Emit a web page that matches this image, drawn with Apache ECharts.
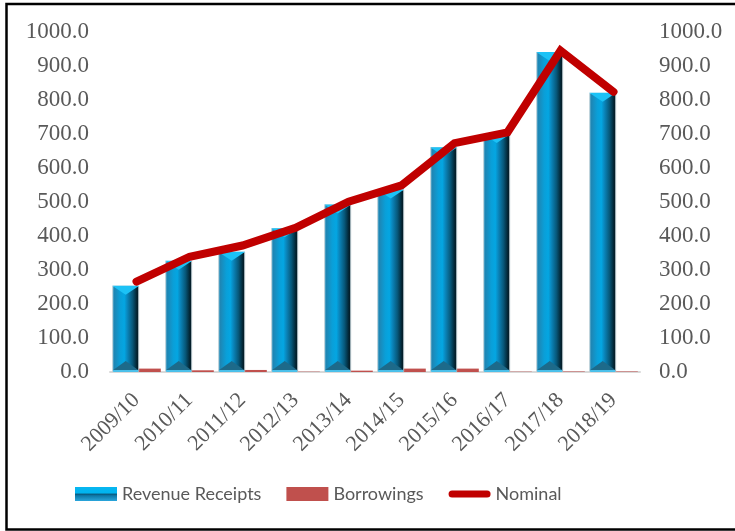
<!DOCTYPE html>
<html>
<head>
<meta charset="utf-8">
<script src="https://cdn.jsdelivr.net/npm/echarts@6/dist/echarts.min.js"></script>
<style>
  html, body { margin: 0; padding: 0; background: #fff; }
  #chart { width: 735px; height: 531px; }
</style>
</head>
<body>
<div id="chart"></div>
<script>
// Fiscal years on the category axis
const years = ['2009/10', '2010/11', '2011/12', '2012/13', '2013/14',
               '2014/15', '2015/16', '2016/17', '2017/18', '2018/19'];
// Revenue receipts (bars)
const revenueReceipts = [254, 327, 354, 423, 493, 537, 661, 700, 941, 821];
// Borrowings (small bars beside each revenue bar)
const borrowings = [10, 5, 6, 1, 4, 10, 10, 1, 1.5, 1.5];
// Nominal (thick line)
const nominal = [266, 339, 372, 424, 501, 549, 673, 705, 945, 824];
// Value axis ticks
const axisMin = 0, axisMax = 1000, axisStep = 100;

const BAR_W = 27;
const BAR_GAP = -0.2;            // fraction of bar width, negative = overlap
const GROUP_W = BAR_W * 2 + BAR_W * BAR_GAP;
const REV_SHIFT = -GROUP_W / 2 + BAR_W / 2;   // revenue bar centre relative to category centre

const grey = '#595959';
const serif = '"Liberation Serif", "DejaVu Serif", serif';

const chart = echarts.init(document.getElementById('chart'), null, { renderer: 'canvas' });

// Horizontal shading across each revenue bar
const barFill = new echarts.graphic.LinearGradient(0, 0, 1, 0, [
  { offset: 0,    color: '#4aa8d0' },
  { offset: 0.08, color: '#1e86b4' },
  { offset: 0.3,  color: '#0a9fd8' },
  { offset: 0.45, color: '#04a6e2' },
  { offset: 0.56, color: '#0a86bc' },
  { offset: 0.75, color: '#07587a' },
  { offset: 0.92, color: '#02212e' },
  { offset: 1,    color: '#0c1a20' }
]);

// Legend swatch for the revenue bars (lit from above)
const legendFill = new echarts.graphic.LinearGradient(0, 0, 0, 1, [
  { offset: 0,    color: '#08b6f0' },
  { offset: 0.42, color: '#00b4f0' },
  { offset: 0.52, color: '#0a5b80' },
  { offset: 0.62, color: '#0d78a8' },
  { offset: 1,    color: '#2aa6dc' }
]);

// Rounded thick stroke used as the line's legend swatch
const lineIcon = 'path://M4,0 L44,0 A4,4 0 0 1 44,8 L4,8 A4,4 0 0 1 4,0 Z';

// Bevel facets drawn on top of each revenue bar
function renderBevel(params, api) {
  const top = api.coord([api.value(0), api.value(1)]);
  const bottom = api.coord([api.value(0), 0]);
  const cx = top[0] + REV_SHIFT;
  const x0 = cx - BAR_W / 2, x1 = cx + BAR_W / 2;
  const yT = top[1], yB = bottom[1];
  const d = 9;
  return {
    type: 'group',
    children: [
      {
        type: 'polygon',
        shape: { points: [[x0, yT], [x1, yT], [cx, yT + d]] },
        style: { fill: '#1cc2f6' }
      },
      {
        type: 'polygon',
        shape: { points: [[x0 + 1, yB - 2], [x1 - 1, yB - 2], [cx, yB - 2 - d]] },
        style: { fill: '#1d6a8a' }
      },
      {
        type: 'rect',
        shape: { x: x0 + 1, y: yB - 2, width: BAR_W - 2, height: 2 },
        style: { fill: '#4cc0ea' }
      }
    ]
  };
}

const valueAxis = (side, margin) => ({
  type: 'value',
  position: side,
  min: axisMin,
  max: axisMax,
  interval: axisStep,
  splitLine: { show: false },
  axisLine: { show: false },
  axisTick: { show: false },
  axisLabel: {
    color: grey,
    fontFamily: serif,
    fontSize: 23,
    margin: margin,
    formatter: v => v.toFixed(1)
  }
});

chart.setOption({
  animation: false,
  backgroundColor: '#fff',
  graphic: [{
    type: 'rect',
    silent: true,
    shape: { x: 6.5, y: 4, width: 760, height: 525.5 },
    style: { fill: 'none', stroke: '#000', lineWidth: 2.5 },
    z: 100
  }],
  grid: { left: 110, right: 95, top: 32, bottom: 159, containLabel: false },
  legend: {
    left: 75,
    top: 485,
    padding: 0,
    itemWidth: 42,
    itemHeight: 14,
    itemGap: 25,
    textStyle: { color: grey, fontFamily: 'Lato, "Open Sans", sans-serif', fontSize: 18 },
    data: [
      { name: 'Revenue Receipts', icon: 'rect', itemStyle: { color: legendFill, borderWidth: 0 } },
      { name: 'Borrowings', icon: 'rect' },
      { name: 'Nominal', icon: lineIcon, itemStyle: { color: '#c00000' } }
    ]
  },
  xAxis: {
    type: 'category',
    data: years,
    boundaryGap: true,
    axisLine: { lineStyle: { color: '#d9d9d9', width: 2 } },
    axisTick: { show: false },
    axisLabel: {
      color: grey,
      fontFamily: serif,
      fontSize: 22,
      rotate: 45,
      margin: 25,
      interval: 0
    }
  },
  yAxis: [valueAxis('left', 21), valueAxis('right', 19)],
  series: [
    {
      name: 'Revenue Receipts',
      type: 'bar',
      data: revenueReceipts,
      barWidth: BAR_W,
      barGap: (BAR_GAP * 100) + '%',
      itemStyle: { color: barFill, borderColor: 'rgba(190,205,212,0.9)', borderWidth: 1 },
      z: 3
    },
    {
      name: 'Borrowings',
      type: 'bar',
      data: borrowings,
      barWidth: BAR_W,
      itemStyle: { color: '#c0504d' },
      z: 2
    },
    {
      name: 'Revenue bevel',
      type: 'custom',
      data: revenueReceipts.map((v, i) => [i, v]),
      renderItem: renderBevel,
      silent: true,
      z: 4
    },
    {
      name: 'Nominal',
      type: 'line',
      data: nominal,
      symbol: 'none',
      lineStyle: { color: '#c00000', width: 8, cap: 'round', join: 'miter' },
      itemStyle: { color: '#c00000' },
      z: 5
    }
  ]
});
</script>
</body>
</html>
